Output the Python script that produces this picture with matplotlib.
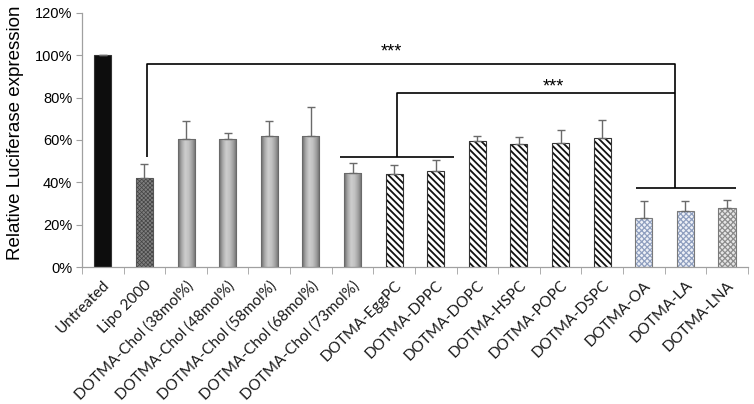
import matplotlib

matplotlib.use("Agg")

import matplotlib.pyplot as plt
import numpy as np
from matplotlib.colors import LinearSegmentedColormap
from matplotlib.ticker import FixedLocator, PercentFormatter

categories = [
    "Untreated", "Lipo 2000",
    "DOTMA-Chol (38mol%)", "DOTMA-Chol (48mol%)", "DOTMA-Chol (58mol%)",
    "DOTMA-Chol (68mol%)", "DOTMA-Chol (73mol%)",
    "DOTMA-EggPC", "DOTMA-DPPC", "DOTMA-DOPC", "DOTMA-HSPC", "DOTMA-POPC", "DOTMA-DSPC",
    "DOTMA-OA", "DOTMA-LA", "DOTMA-LNA",
]
expression = [100, 42.0, 60.3, 60.6, 62.0, 61.9, 44.3, 43.9, 45.3, 59.5, 58.1, 58.4, 60.9, 23.0, 26.5, 27.9]
error_up = [0.3, 6.6, 8.5, 2.5, 6.8, 13.5, 4.7, 4.3, 5.2, 2.4, 3.3, 6.2, 8.4, 8.0, 4.7, 3.9]
styles = ["solid", "check", "cyl", "cyl", "cyl", "cyl", "cyl",
          "stripe", "stripe", "stripe", "stripe", "stripe", "stripe",
          "blue", "blue", "grey"]

# significance brackets, in category-index units: (left, right, height %)
bracket_top = (1.06, 13.76, 95.7)
bracket_mid = (7.07, 13.76, 82.0)
group_pc = (5.69, 8.45, 51.8)
group_fa = (12.82, 15.22, 37.5)
stars = [(6.93, 101.6), (10.83, 85.2)]

fig = plt.figure(figsize=(7.54, 4.04), dpi=100)
ax = fig.add_axes([0.1088, 0.339, 0.883, 0.629])

x = np.arange(len(categories))
width = 0.41
cyl_cmap = LinearSegmentedColormap.from_list(
    "cyl", ["#6a6a6a", "#a8a8a8", "#cdcdcd", "#c2c2c2", "#a0a0a0", "#6e6e6e"])


def set_hatch_lw(bars, lw):
    for p in bars:
        if hasattr(p, "set_hatch_linewidth"):
            p.set_hatch_linewidth(lw)


for xi, val, style in zip(x, expression, styles):
    left = xi - width / 2
    if style == "solid":
        ax.bar(xi, val, width, color="#0d0d0d", edgecolor="#333333", linewidth=0.8, zorder=2)
    elif style == "check":
        b = ax.bar(xi, val, width, color="#7e7e7e", edgecolor="#444444", hatch="xxxxxxxx",
                   linewidth=0, zorder=2)
        set_hatch_lw(b, 0.5)
        ax.bar(xi, val, width, color="none", edgecolor="#555555", linewidth=0.8, zorder=3)
    elif style == "cyl":
        b = ax.bar(xi, val, width, color="none", edgecolor="#6a6a6a", linewidth=0.8, zorder=3)
        grad = np.linspace(0, 1, 64).reshape(1, -1)
        im = ax.imshow(grad, cmap=cyl_cmap, aspect="auto", extent=(left, left + width, 0, val),
                       zorder=2, interpolation="bilinear")
        im.set_clip_path(b[0])
    elif style == "stripe":
        b = ax.bar(xi, val, width, color="white", edgecolor="#111111", hatch="\\\\\\\\\\",
                   linewidth=0, zorder=2)
        set_hatch_lw(b, 1.3)
        ax.bar(xi, val, width, color="none", edgecolor="#333333", linewidth=0.8, zorder=3)
    else:
        hcol = "#8f9fbf" if style == "blue" else "#8c8c8c"
        fcol = "#eef1f7" if style == "blue" else "#e6e6e6"
        b = ax.bar(xi, val, width, color=fcol, edgecolor=hcol, hatch="xxxxxx",
                   linewidth=0, zorder=2)
        set_hatch_lw(b, 0.9)
        ax.bar(xi, val, width, color="none", edgecolor="#7a7a7a", linewidth=0.8, zorder=3)

ax.errorbar(x, expression, yerr=[np.zeros(len(x)), error_up], fmt="none",
            ecolor="#6a6a6a", elinewidth=1.0, capsize=3, capthick=1.0, zorder=4)

line_kw = dict(color="black", linewidth=1.2, zorder=5, solid_capstyle="butt")
# lower group lines
ax.plot([group_pc[0], group_pc[1]], [group_pc[2], group_pc[2]], **line_kw)
ax.plot([group_fa[0], group_fa[1]], [group_fa[2], group_fa[2]], **line_kw)
# top bracket: Lipo 2000 vs fatty acid group
ax.plot([bracket_top[0], bracket_top[0], bracket_top[1], bracket_top[1]],
        [52.1, bracket_top[2], bracket_top[2], group_fa[2]], **line_kw)
# middle bracket: PC group vs fatty acid group
ax.plot([bracket_mid[0], bracket_mid[0], bracket_mid[1]],
        [group_pc[2], bracket_mid[2], bracket_mid[2]], **line_kw)
for sx, sy in stars:
    ax.text(sx, sy, "***", ha="center", va="center", fontsize=13, family="Liberation Sans")

ax.set_xlim(-0.5, len(categories) - 0.5)
ax.set_ylim(0, 120)
ax.yaxis.set_major_locator(FixedLocator(np.arange(0, 121, 20)))
ax.yaxis.set_major_formatter(PercentFormatter(decimals=0))
ax.set_xticks(x)
ax.set_xticklabels(categories, rotation=45, ha="right", rotation_mode="anchor",
                   fontsize=11, family="Lato", color="#1a1a1a")
ax.xaxis.set_minor_locator(FixedLocator(np.arange(len(categories) + 1) - 0.5))
ax.tick_params(axis="x", which="major", length=0, pad=8)
ax.tick_params(axis="x", which="minor", length=5, color="#a0a0a0", direction="out")
ax.tick_params(axis="y", length=4, color="#a0a0a0", labelsize=10.5, pad=3)
for lbl in ax.get_yticklabels():
    lbl.set_family("Liberation Sans")

for side in ("top", "right"):
    ax.spines[side].set_visible(False)
for side in ("left", "bottom"):
    ax.spines[side].set_color("#a0a0a0")
    ax.spines[side].set_linewidth(0.9)

ax.set_ylabel("Relative Luciferase expression", fontsize=13.5, family="Liberation Sans")
ax.yaxis.set_label_coords(-0.087, 0.53)

fig.savefig("out.png", dpi=100)
